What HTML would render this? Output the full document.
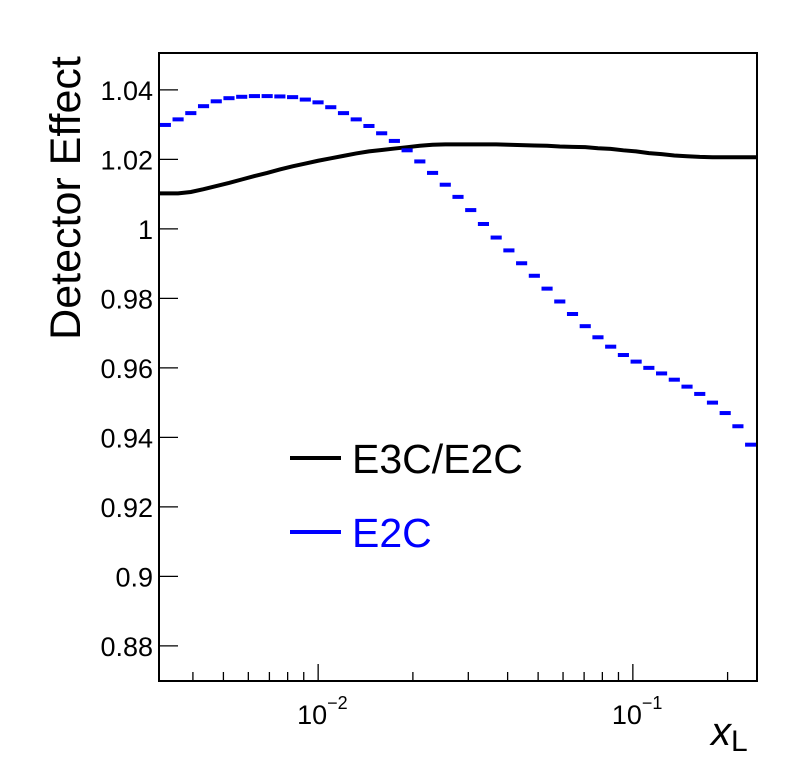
<!DOCTYPE html>
<html><head><meta charset="utf-8"><style>
body{margin:0;background:#fff}
svg text{font-family:"Liberation Sans",Arial,sans-serif}
</style></head><body>
<svg id="chart" width="797" height="765">
<g id="plot"></g>
<text x="80" y="198" transform="rotate(-90 80 198)" text-anchor="middle" font-size="43">Detector Effect</text>
<text x="711" y="745" font-size="40" font-style="italic">x<tspan font-size="30" font-style="normal" dy="6">L</tspan></text>
<g>
<line x1="290" x2="341" y1="458" y2="458" stroke="#000" stroke-width="4"/>
<text x="352" y="473" font-size="41">E3C/E2C</text>
<line x1="290" x2="341" y1="532" y2="532" stroke="#0000ff" stroke-width="4"/>
<text x="352" y="547" font-size="41" fill="#0000ff">E2C</text>
</g>
</svg>
<script>
const e3cValues=[1.0102,1.0102,1.0106,1.0114,1.0123,1.0132,1.0142,1.0152,1.0161,1.0171,1.0180,1.0188,1.0196,1.0203,1.0210,1.0217,1.0223,1.0227,1.0231,1.0235,1.0239,1.0242,1.0243,1.0243,1.0243,1.0243,1.0243,1.0242,1.0241,1.0240,1.0239,1.0237,1.0236,1.0235,1.0232,1.0230,1.0226,1.0223,1.0218,1.0215,1.0211,1.0209,1.0207,1.0206,1.0206,1.0206,1.0206];
const e2cValues=[1.0299,1.0315,1.0333,1.0353,1.0367,1.0376,1.0380,1.0382,1.0382,1.0381,1.0379,1.0372,1.0364,1.0350,1.0333,1.0315,1.0296,1.0275,1.0253,1.0226,1.0194,1.0161,1.0127,1.0092,1.0054,1.0014,0.9975,0.9938,0.9901,0.9865,0.9828,0.9791,0.9755,0.9720,0.9688,0.9661,0.9637,0.9618,0.9600,0.9584,0.9566,0.9546,0.9525,0.9500,0.9470,0.9432,0.9379];
const yTicks=[0.88,0.9,0.92,0.94,0.96,0.98,1,1.02,1.04];
const yTickLabels=["0.88","0.9","0.92","0.94","0.96","0.98","1","1.02","1.04"];
const xMajor=[0.01,0.1];
const xMajorExp=["−2","−1"];
const xMin=Math.pow(10,-2.5057), xMax=0.248, yMin=0.8699, yMax=1.0506;
const L=159,R=757,T=53,B=681;
const NS="http://www.w3.org/2000/svg";
const g=document.getElementById('plot');
function X(v){return L+(Math.log10(v)-Math.log10(xMin))/(Math.log10(xMax)-Math.log10(xMin))*(R-L);}
function Y(v){return B-(v-yMin)/(yMax-yMin)*(B-T);}
function mk(t,a,p){const e=document.createElementNS(NS,t);for(const k in a)e.setAttribute(k,a[k]);(p||g).appendChild(e);return e;}
const nb=e2cValues.length;
const lx0=Math.log10(xMin), lx1=Math.log10(xMax);
function edge(i){return Math.pow(10,lx0+(lx1-lx0)*i/nb);}
let pts=[];
e3cValues.forEach((v,i)=>{
 if(i===0)pts.push(X(edge(0))+','+Y(v));
 pts.push(X(Math.sqrt(edge(i)*edge(i+1)))+','+Y(v));
 if(i===nb-1)pts.push(X(edge(nb))+','+Y(v));
});
const line=mk('polyline',{points:pts.join(' '),fill:'none',stroke:'#000','stroke-width':4});


e2cValues.forEach((v,i)=>{
 const x0=X(edge(i)),x1=X(edge(i+1));
 const r=mk('rect',{x:x0+0.8,y:Y(v)-2,width:x1-x0-1.6,height:4,fill:'#0000ff'});
 
 
});
const fr=mk('rect',{x:L,y:T,width:R-L,height:B-T,fill:'none',stroke:'#000','stroke-width':2});


yTicks.forEach((v,i)=>{
 mk('line',{x1:L,x2:L+19,y1:Y(v),y2:Y(v),stroke:'#000','stroke-width':1.3});
 const t=mk('text',{x:153,y:Y(v)+10,'text-anchor':'end','font-size':27});
 t.textContent=yTickLabels[i];
 
 
});
for(let d=-3;d<=0;d++){for(let m=1;m<10;m++){const v=m*Math.pow(10,d);if(v<xMin||v>xMax)continue;
 const len=m==1?17:9;mk('line',{x1:X(v),x2:X(v),y1:B,y2:B-len,stroke:'#000','stroke-width':1.3});}}
xMajor.forEach((v,i)=>{
 const t=mk('text',{x:X(v)-6,y:724,'text-anchor':'middle','font-size':27});
 t.textContent='10';
 
 
 const s=mk('text',{x:X(v)+9,y:709,'font-size':18});
 s.textContent=xMajorExp[i];
 
 
});
</script>
</body></html>
